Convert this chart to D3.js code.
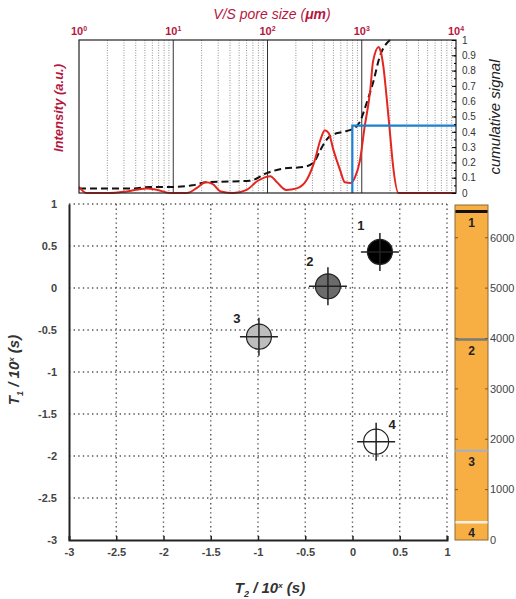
<!DOCTYPE html>
<html>
<head>
<meta charset="utf-8">
<script src="https://cdn.jsdelivr.net/npm/d3@7"></script>
<style>
  body { margin: 0; background: #fff; }
  svg { display: block; font-family: "Liberation Sans", Arial, sans-serif; }
</style>
</head>
<body>
<svg id="chart" width="516" height="599"></svg>
<script>
// ---- data ----
// top panel: pore size (um) vs intensity, cumulative signal
const poreSize = [1, 1.2, 2.1, 3.2, 5.2, 6.8, 9.3, 14, 18, 22, 26, 32, 44, 60, 79, 107, 126, 158, 204, 263, 316, 363, 407, 447, 501, 589, 661, 759, 851, 955, 1072, 1230, 1318, 1514, 1549, 1698, 1820, 1995, 2138, 2455, 10000];
const intensity = [0.04, 0.0, 0.0, 0.01, 0.03, 0.02, 0.0, 0.0, 0.035, 0.07, 0.06, 0.01, 0.0, 0.02, 0.08, 0.11, 0.07, 0.02, 0.03, 0.09, 0.21, 0.345, 0.41, 0.39, 0.28, 0.15, 0.07, 0.065, 0.105, 0.21, 0.43, 0.67, 0.86, 0.955, 0.945, 0.825, 0.65, 0.39, 0.19, 0.0, 0.0];
const cumSize = [1, 3.8, 5.6, 10, 16, 22, 65, 98, 148, 240, 309, 363, 457, 631, 813, 955, 1122, 1318, 1549, 1995];
const cumSignal = [0.03, 0.03, 0.04, 0.04, 0.05, 0.07, 0.08, 0.13, 0.16, 0.17, 0.20, 0.28, 0.37, 0.40, 0.42, 0.465, 0.585, 0.72, 0.89, 1.0];
const cutoff = { size: 794, signal: 0.44 };
const decades = [1, 10, 100, 1000, 10000];
const decadeExp = ["0", "1", "2", "3", "4"];
const cumTicks = [0, 0.1, 0.2, 0.3, 0.4, 0.5, 0.6, 0.7, 0.8, 0.9, 1];

// bottom panel: T2-T1 map
const sites = ["1", "2", "3", "4"];
const t2 = [0.29, -0.26, -0.99, 0.25];
const t1 = [0.43, 0.02, -0.58, -1.83];
const siteFill = ["#000000", "#6b6b6b", "#bdbdbd", "#ffffff"];
const axTicks = [-3, -2.5, -2, -1.5, -1, -0.5, 0, 0.5, 1];

// depth column
const depthTicks = [0, 1000, 2000, 3000, 4000, 5000, 6000];
const layerTop = [6520, 3980, 1770, 350];
const layerColor = ["#111111", "#7a7a7a", "#b0b0b0", "#f6f1e2"];
const depthMax = 6650;

const svg = d3.select("#chart");
const red = "#b5173f";
const fmt = d => String(d);

// ---- top panel ----
const tp = { x0: 79, x1: 456, y0: 40, y1: 193 };
const xs = d3.scaleLog().domain([1, 10000]).range([tp.x0, tp.x1]);
const ys = d3.scaleLinear().domain([0, 1]).range([tp.y1, tp.y0]);

const gTop = svg.append("g");
const minor = [];
decades.slice(0, -1).forEach(d => { for (let k = 2; k <= 9; k++) minor.push(d * k); });
gTop.selectAll(".minor").data(minor).join("line")
  .attr("x1", d => xs(d)).attr("x2", d => xs(d))
  .attr("y1", tp.y0).attr("y2", tp.y1)
  .attr("stroke", "#777").attr("stroke-width", 0.8).attr("stroke-dasharray", "1,1.5");
gTop.selectAll(".major").data(decades.slice(1, -1)).join("line")
  .attr("x1", d => xs(d)).attr("x2", d => xs(d))
  .attr("y1", tp.y0).attr("y2", tp.y1)
  .attr("stroke", "#333").attr("stroke-width", 1);

gTop.append("path")
  .datum(d3.zip(cumSize, cumSignal))
  .attr("fill", "none").attr("stroke", "#111").attr("stroke-width", 2)
  .attr("stroke-dasharray", "7,4")
  .attr("d", d3.line().x(d => xs(d[0])).y(d => ys(d[1])).curve(d3.curveMonotoneX));

gTop.append("path")
  .datum(d3.zip(poreSize, intensity))
  .attr("fill", "none").attr("stroke", "#e3261f").attr("stroke-width", 2)
  .attr("d", d3.line().x(d => xs(d[0])).y(d => ys(d[1])).curve(d3.curveMonotoneX));

gTop.append("path")
  .attr("fill", "none").attr("stroke", "#1d7fcf").attr("stroke-width", 2.2)
  .attr("d", `M${xs(cutoff.size)},${tp.y1}V${ys(cutoff.signal)}H${tp.x1}`);

gTop.append("rect")
  .attr("x", tp.x0).attr("y", tp.y0)
  .attr("width", tp.x1 - tp.x0).attr("height", tp.y1 - tp.y0)
  .attr("fill", "none").attr("stroke", "#222").attr("stroke-width", 1.2);

// right axis (major + minor ticks pointing inward)
const rAxis = gTop.append("g").attr("transform", `translate(${tp.x1},0)`)
  .call(d3.axisRight(ys).tickValues(cumTicks).tickFormat(fmt).tickSize(-4).tickPadding(6));
rAxis.select(".domain").remove();
rAxis.selectAll("text").attr("font-size", 10).attr("fill", "#333");
gTop.append("g").attr("transform", `translate(${tp.x1},0)`)
  .call(d3.axisRight(ys).ticks(20).tickFormat("").tickSize(-2))
  .select(".domain").remove();

// top decade labels
const dl = gTop.selectAll(".dec").data(decades).join("text")
  .attr("x", d => xs(d)).attr("y", 35)
  .attr("text-anchor", "middle").attr("font-size", 11).attr("font-weight", "bold").attr("fill", red);
dl.append("tspan").text("10");
dl.append("tspan").attr("dy", -4).attr("font-size", 7).text((d, i) => decadeExp[i]);

const tt = gTop.append("text").attr("x", 272).attr("y", 19).attr("text-anchor", "middle")
  .attr("font-size", 14).attr("font-style", "italic").attr("fill", red);
tt.append("tspan").text("V/S pore size (");
tt.append("tspan").attr("font-weight", "bold").text("μm");
tt.append("tspan").text(")");

gTop.append("text").attr("transform", "translate(63,108) rotate(-90)")
  .attr("text-anchor", "middle").attr("font-size", 13).attr("font-weight", "bold")
  .attr("font-style", "italic").attr("fill", red).text("Intensity (a.u.)");
gTop.append("text").attr("transform", "translate(500,117) rotate(-90)")
  .attr("text-anchor", "middle").attr("font-size", 15)
  .attr("font-style", "italic").attr("fill", "#222").text("cumulative signal");

// ---- bottom panel ----
const bot = { x0: 69, x1: 447, y0: 204, y1: 540 };
const xb = d3.scaleLinear().domain([-3, 1]).range([bot.x0, bot.x1]);
const yb = d3.scaleLinear().domain([-3, 1]).range([bot.y1, bot.y0]);
const gBot = svg.append("g");

gBot.selectAll(".vg").data(axTicks.slice(1)).join("line")
  .attr("x1", d => xb(d)).attr("x2", d => xb(d)).attr("y1", bot.y0).attr("y2", bot.y1)
  .attr("stroke", "#555").attr("stroke-width", 1.4).attr("stroke-dasharray", "1.4,3.2");
gBot.selectAll(".hg").data(axTicks.slice(1)).join("line")
  .attr("y1", d => yb(d)).attr("y2", d => yb(d)).attr("x1", bot.x0).attr("x2", bot.x1)
  .attr("stroke", "#555").attr("stroke-width", 1.4).attr("stroke-dasharray", "1.4,3.2");

const xAx = gBot.append("g").attr("transform", `translate(0,${bot.y1})`)
  .call(d3.axisBottom(xb).tickValues(axTicks).tickFormat(fmt).tickSize(-4).tickPadding(12));
const yAx = gBot.append("g").attr("transform", `translate(${bot.x0},0)`)
  .call(d3.axisLeft(yb).tickValues(axTicks).tickFormat(fmt).tickSize(0).tickPadding(12));
[xAx, yAx].forEach(a => {
  a.select(".domain").attr("stroke", "#222").attr("stroke-width", 2);
  a.selectAll(".tick line").attr("stroke", "#222").attr("stroke-width", 1.5);
  a.selectAll("text").attr("font-size", 11).attr("font-weight", "bold").attr("fill", "#444");
});
xAx.selectAll("text").attr("dy", "0.4em");
xAx.selectAll(".tick").filter(d => d === -3).select("line").remove();

// sites
const labelDx = [-19, -18, -22, 16];
const labelDy = [-22, -20, -14, -13];
const site = gBot.selectAll(".site").data(sites).join("g")
  .attr("transform", (d, i) => `translate(${xb(t2[i])},${yb(t1[i])})`);
site.append("circle").attr("r", 12.5).attr("fill", (d, i) => siteFill[i])
  .attr("stroke", "#222").attr("stroke-width", 1.2);
site.append("path").attr("d", "M-19,0H19M0,-19V19")
  .attr("stroke", "#222").attr("stroke-width", 1.5);
site.append("text").attr("x", (d, i) => labelDx[i]).attr("y", (d, i) => labelDy[i])
  .attr("text-anchor", "middle").attr("font-size", 13).attr("font-weight", "bold").attr("fill", "#222")
  .text(d => d);

// axis titles
function axisTitle(sel, sub) {
  sel.append("tspan").text("T");
  sel.append("tspan").attr("dy", 4).attr("font-size", 9).text(sub);
  sel.append("tspan").attr("dy", -4).text("  / 10");
  sel.append("tspan").attr("dy", -5).attr("font-size", 8).text("x");
  sel.append("tspan").attr("dy", 5).text(" (s)");
}
const xt = gBot.append("text").attr("x", 270).attr("y", 593).attr("text-anchor", "middle")
  .attr("font-size", 15).attr("font-weight", "bold").attr("font-style", "italic").attr("fill", "#333");
axisTitle(xt, "2");
const yt = gBot.append("text").attr("transform", "translate(19,370) rotate(-90)").attr("text-anchor", "middle")
  .attr("font-size", 15).attr("font-weight", "bold").attr("font-style", "italic").attr("fill", "#333");
axisTitle(yt, "1");

// ---- depth column ----
const col = { x0: 455, x1: 488 };
const yd = d3.scaleLinear().domain([0, depthMax]).range([bot.y1, 205]);
const gCol = svg.append("g");
gCol.append("rect").attr("x", col.x0).attr("y", yd(depthMax))
  .attr("width", col.x1 - col.x0).attr("height", yd(0) - yd(depthMax))
  .attr("fill", "#f7ae43").attr("stroke", "#8a6a3a").attr("stroke-width", 1);
gCol.selectAll(".layer").data(layerTop).join("line")
  .attr("x1", col.x0 + 0.5).attr("x2", col.x1 - 0.5)
  .attr("y1", d => yd(d)).attr("y2", d => yd(d))
  .attr("stroke", (d, i) => layerColor[i]).attr("stroke-width", (d, i) => i === 0 ? 3 : 2.5);
gCol.selectAll(".lab").data(sites).join("text")
  .attr("x", (col.x0 + col.x1) / 2).attr("y", (d, i) => yd(layerTop[i]) + 15)
  .attr("text-anchor", "middle").attr("font-size", 12).attr("font-weight", "bold").attr("fill", "#222")
  .text(d => d);
gCol.selectAll(".tl").data(depthTicks.slice(1)).join("path")
  .attr("d", d => `M${col.x0},${yd(d)}h3M${col.x1},${yd(d)}h-3`)
  .attr("stroke", "#7a5a2a").attr("stroke-width", 1);
gCol.selectAll(".tk").data(depthTicks).join("text")
  .attr("x", col.x1 + 2).attr("y", d => yd(d)).attr("dy", "0.35em")
  .attr("font-size", 11).attr("fill", "#444").text(d => d);
</script>
</body>
</html>
